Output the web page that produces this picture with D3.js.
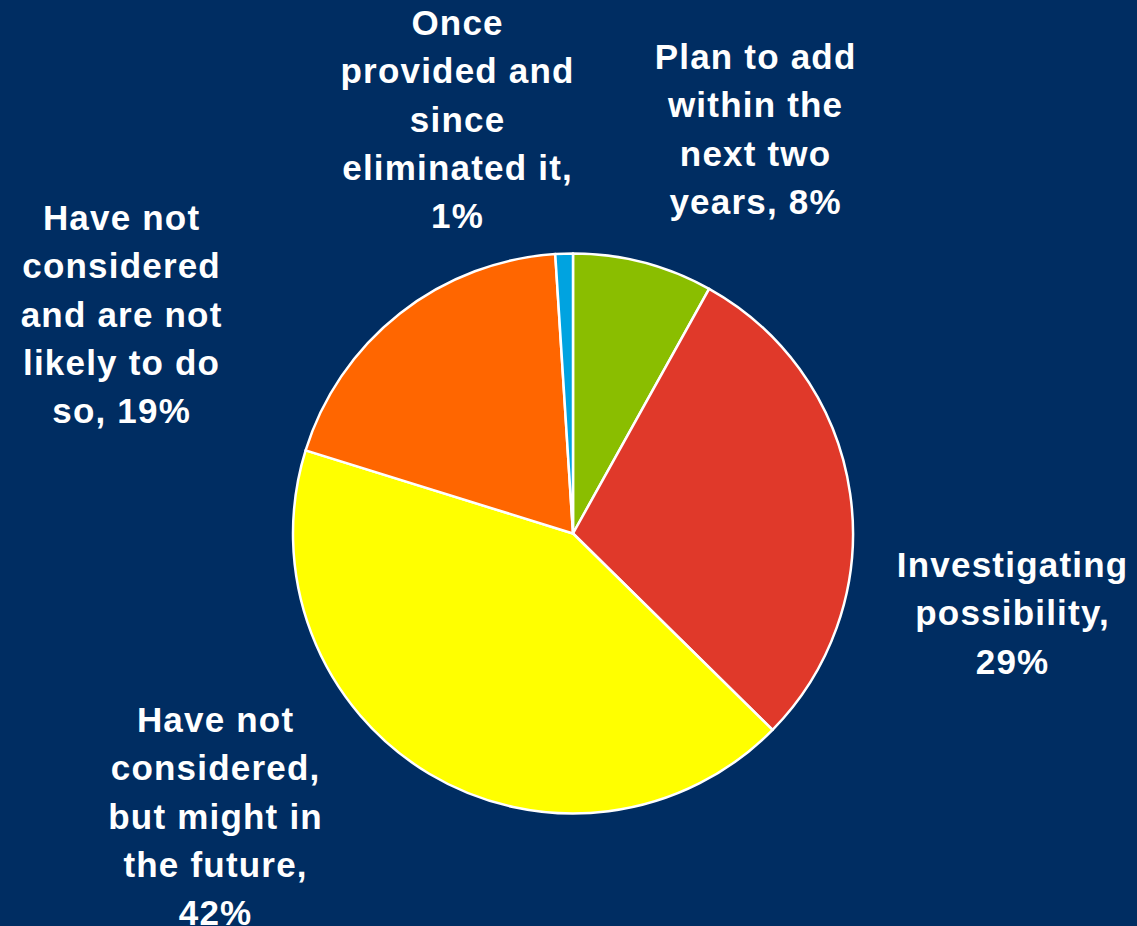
<!DOCTYPE html>
<html>
<head>
<meta charset="utf-8">
<script src="https://cdn.jsdelivr.net/npm/d3@7/dist/d3.min.js"></script>
<style>
  html, body { margin: 0; padding: 0; background: #002d62; }
  svg { display: block; }
  text { font-family: "Liberation Sans", Arial, sans-serif; font-weight: bold; fill: #ffffff; }
</style>
</head>
<body>
<svg id="chart" width="1137" height="926"></svg>
<script>
// Survey responses, clockwise from 12 o'clock
const categories = [
  "Plan to add within the next two years",
  "Investigating possibility",
  "Have not considered, but might in the future",
  "Have not considered and are not likely to do so",
  "Once provided and since eliminated it"
];
const values = [8, 29, 42, 19, 1];
const colors = ["#8abe00", "#e0392a", "#ffff00", "#ff6600", "#00a3e0"];
// Label text broken into lines as displayed
const labelLines = [
  ["Plan to add", "within the", "next two", "years, 8%"],
  ["Investigating", "possibility,", "29%"],
  ["Have not", "considered,", "but might in", "the future,", "42%"],
  ["Have not", "considered", "and are not", "likely to do", "so, 19%"],
  ["Once", "provided and", "since", "eliminated it,", "1%"]
];
// Label block anchor (centre x, first baseline y)
const labelAnchors = [
  [755, 69], [1012, 577], [215, 732], [121, 230], [457, 35]
];

const width = 1137, height = 926;
const cx = 573, cy = 533.5, radius = 280;
const lineHeight = 48.3;

const svg = d3.select("#chart");
svg.append("rect").attr("width", width).attr("height", height).attr("fill", "#002d62");

const pie = d3.pie().value(d => d).sort(null);
const arc = d3.arc().innerRadius(0).outerRadius(radius);
const color = d3.scaleOrdinal().domain(categories).range(colors);

const g = svg.append("g").attr("transform", `translate(${cx},${cy})`);
g.selectAll("path")
  .data(pie(values))
  .join("path")
  .attr("d", arc)
  .attr("fill", (d, i) => color(categories[i]))
  .attr("stroke", "#ffffff")
  .attr("stroke-width", 2.5)
  .attr("stroke-linejoin", "round");

const labels = svg.append("g");
labelLines.forEach((lines, i) => {
  const t = labels.append("text")
    .attr("text-anchor", "middle")
    .attr("font-size", 35)
    .attr("letter-spacing", 1.2);
  lines.forEach((ln, j) => {
    t.append("tspan")
      .attr("x", labelAnchors[i][0] + 0.6)
      .attr("y", labelAnchors[i][1] + j * lineHeight)
      .text(ln);
  });
});
</script>
</body>
</html>
